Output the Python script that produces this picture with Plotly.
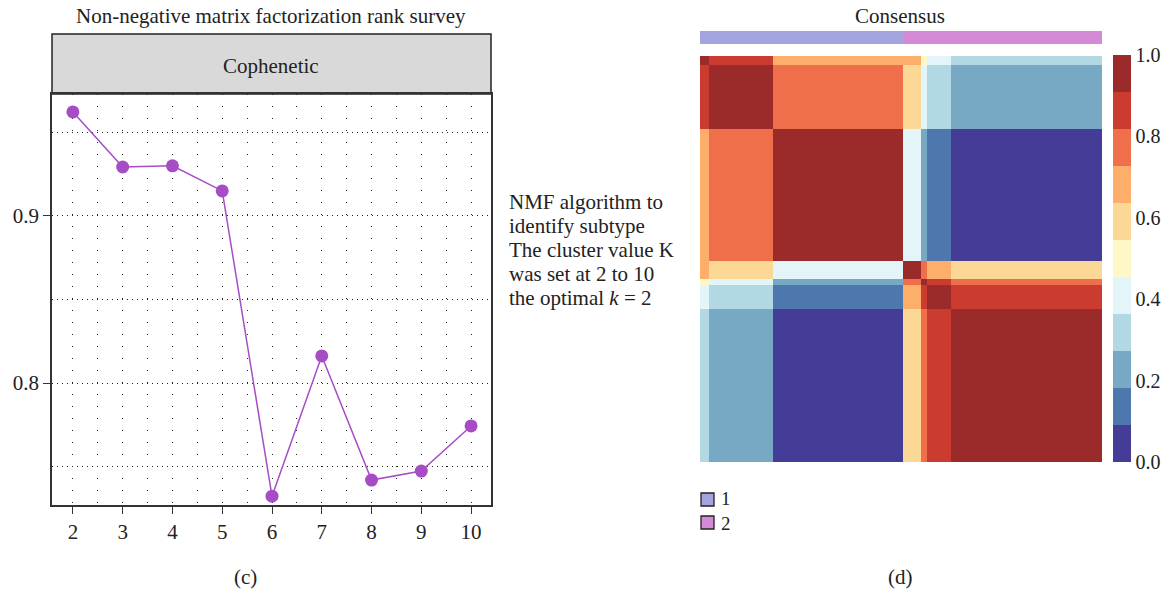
import plotly.graph_objects as go

# ---- rank survey (cophenetic correlation by rank) ----
ranks = [2, 3, 4, 5, 6, 7, 8, 9, 10]
cophenetic = [0.9623, 0.9293, 0.9300, 0.9150, 0.7323, 0.8162, 0.7419, 0.7473, 0.7743]

# ---- consensus matrix, summarised by sample group ----
group_sizes = [3, 21, 43, 6, 2, 8, 50]
group_cluster = [1, 1, 1, 2, 2, 2, 2]
consensus = [
    [0.97, 0.86, 0.68, 0.67, 0.50, 0.40, 0.31],
    [0.86, 0.97, 0.77, 0.59, 0.41, 0.32, 0.23],
    [0.68, 0.77, 0.98, 0.42, 0.22, 0.13, 0.04],
    [0.67, 0.59, 0.42, 0.96, 0.78, 0.68, 0.60],
    [0.50, 0.41, 0.22, 0.78, 0.95, 0.86, 0.76],
    [0.40, 0.32, 0.13, 0.68, 0.86, 0.96, 0.85],
    [0.31, 0.23, 0.04, 0.60, 0.76, 0.85, 0.97],
]
colorbar_ticks = [0.0, 0.2, 0.4, 0.6, 0.8, 1.0]
cluster_labels = ["1", "2"]
note_lines = ["NMF algorithm to", "identify subtype", "The cluster value K",
              "was set at 2 to 10", "the optimal <i>k</i> = 2"]

W, H = 1166, 590
FONT = "Liberation Serif"
FS = 21
PURPLE = "#A64DC6"
INK = "#222"

palette = ["#453C98", "#4E77AD", "#77A9C5", "#B2D8E4", "#E4F5F9", "#FEF7C8",
           "#FCD896", "#FDAE6B", "#EF6F4A", "#CB3B2F", "#9B2A2B"]
n = len(palette)
scale = []
for i, c in enumerate(palette):
    scale.append([i / n, c])
    scale.append([(i + 1) / n, c])

cluster_colors = ["#A3A3DD", "#D48AD6"]


def px_x(p):
    return p / W


def px_y(p):
    return 1 - p / H


edges = [0]
for s in group_sizes:
    edges.append(edges[-1] + s)

fig = go.Figure()

# rank survey line
fig.add_trace(go.Scatter(
    x=ranks, y=cophenetic, mode="lines+markers",
    line=dict(color=PURPLE, width=1.5),
    marker=dict(color=PURPLE, size=13),
    xaxis="x", yaxis="y", showlegend=False,
))

# consensus heatmap
fig.add_trace(go.Heatmap(
    z=consensus, x=edges, y=edges, zmin=0, zmax=1,
    colorscale=scale, xaxis="x2", yaxis="y2",
    colorbar=dict(
        x=px_x(1113), xanchor="left", y=px_y(462), yanchor="bottom",
        len=(462 - 55) / H, lenmode="fraction", thickness=18,
        outlinewidth=0, tickvals=colorbar_ticks,
        ticktext=[f"{v:.1f}" for v in colorbar_ticks],
        ticks="", xpad=0, ypad=0,
        tickfont=dict(family=FONT, size=20, color=INK),
    ),
))

# cluster annotation bar
fig.add_trace(go.Heatmap(
    z=[group_cluster], x=edges, y=[0, 1], zmin=1, zmax=2,
    colorscale=[[0, cluster_colors[0]], [0.5, cluster_colors[0]],
                [0.5, cluster_colors[1]], [1, cluster_colors[1]]],
    showscale=False, xaxis="x3", yaxis="y3",
))

axis_font = dict(family=FONT, size=FS, color=INK)

fig.update_layout(
    width=W, height=H,
    margin=dict(l=0, r=0, t=0, b=0, autoexpand=False),
    paper_bgcolor="white", plot_bgcolor="white",
    font=dict(family=FONT, color=INK),
    xaxis=dict(
        domain=[px_x(52), px_x(491)], range=[1.58, 10.40],
        tickvals=ranks, ticks="outside", ticklen=7, tickcolor="#333",
        tickfont=axis_font, showline=True, mirror=True,
        linecolor="#333", linewidth=1.5, zeroline=False,
        showgrid=True, gridcolor="#222", gridwidth=1, griddash="1px,11px",
        minor=dict(dtick=0.5, showgrid=True, gridcolor="#222",
                   gridwidth=1, griddash="1px,11px"),
        anchor="y",
    ),
    yaxis=dict(
        domain=[px_y(505), px_y(94)], range=[0.727, 0.973],
        tickvals=[0.8, 0.9], ticktext=["0.8", "0.9"], ticks="outside",
        ticklen=7, tickcolor="#333", tickfont=axis_font,
        showline=True, mirror=True, linecolor="#333", linewidth=1.5,
        zeroline=False, showgrid=True, gridcolor="#222", gridwidth=1,
        griddash="1px,4px",
        minor=dict(tick0=0.75, dtick=0.05, showgrid=True, gridcolor="#222",
                   gridwidth=1, griddash="1px,4px"),
        anchor="x",
    ),
    xaxis2=dict(domain=[px_x(700), px_x(1102)], range=[0, edges[-1]],
                visible=False, anchor="y2"),
    yaxis2=dict(domain=[px_y(462), px_y(56)], range=[edges[-1], 0],
                visible=False, anchor="x2"),
    xaxis3=dict(domain=[px_x(700), px_x(1102)], range=[0, edges[-1]],
                visible=False, anchor="y3"),
    yaxis3=dict(domain=[px_y(44), px_y(31)], range=[0, 1],
                visible=False, anchor="x3"),
)

# facet strip above the survey panel
fig.add_shape(type="rect", xref="paper", yref="paper",
              x0=px_x(52), x1=px_x(491), y0=px_y(94), y1=px_y(34),
              fillcolor="#D9D9D9", line=dict(color="#222", width=1.5),
              layer="below")

# cluster legend: swatches plus a two-line label block
for i, lab in enumerate(cluster_labels):
    top = 493 + i * 23
    fig.add_shape(type="rect", xref="paper", yref="paper",
                  x0=px_x(701), x1=px_x(714), y0=px_y(top + 13), y1=px_y(top),
                  fillcolor=cluster_colors[i], line=dict(color="#222", width=1.3))
fig.add_annotation(x=px_x(719), y=px_y(511), xref="paper", yref="paper",
                   text="<br>".join(cluster_labels), showarrow=False,
                   xanchor="left", yanchor="middle", align="left",
                   font=dict(family=FONT, size=19, color=INK))

texts = [
    (px_x(271), px_y(16), "Non-negative matrix factorization rank survey"),
    (px_x(271), px_y(66), "Cophenetic"),
    (px_x(900), px_y(16), "Consensus"),
    (px_x(245), px_y(577), "(c)"),
    (px_x(900), px_y(577), "(d)"),
]
for x, y, t in texts:
    fig.add_annotation(x=x, y=y, xref="paper", yref="paper", text=t,
                       showarrow=False, xanchor="center", yanchor="middle",
                       font=dict(family=FONT, size=FS, color=INK))

# side note, one line per annotation for tight line spacing
for i, line in enumerate(note_lines):
    fig.add_annotation(x=px_x(507), y=px_y(202 + 24 * i), xref="paper", yref="paper",
                       text=line, showarrow=False, xanchor="left", yanchor="middle",
                       font=dict(family=FONT, size=FS, color=INK))

fig.write_html("out.html")
